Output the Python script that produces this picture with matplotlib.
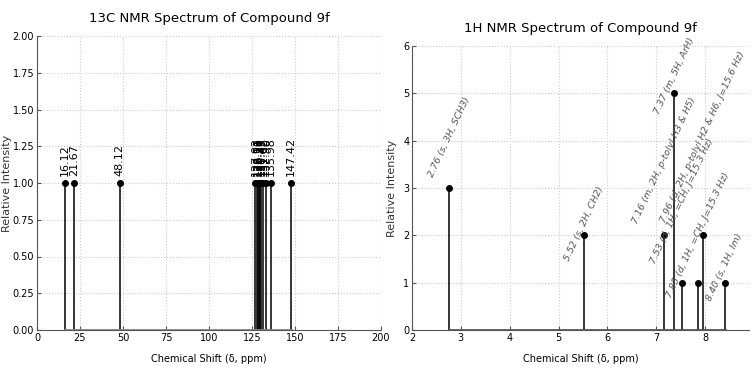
import matplotlib
matplotlib.use("Agg")
import matplotlib.pyplot as plt

plt.rcParams['font.family'] = ['DejaVu Sans']

# 13C peaks (ppm) and intensities
c13_shifts = [16.12, 21.67, 48.12, 127.02, 128.11, 128.56, 129.23, 129.87,
              130.45, 131.62, 132.90, 135.98, 147.42]
c13_intens = [1.0] * len(c13_shifts)

# 1H peaks
h1_shifts = [2.76, 5.52, 7.16, 7.37, 7.53, 7.86, 7.96, 8.40]
h1_intens = [3, 2, 2, 5, 1, 1, 2, 1]
h1_labels = [
    "2.76 (s, 3H, SCH3)",
    "5.52 (s, 2H, CH2)",
    "7.16 (m, 2H, p-tolyl H3 & H5)",
    "7.37 (m, 5H, ArH)",
    "7.53 (d, 1H, =CH, J=15.3 Hz)",
    "7.85 (d, 1H, =CH, J=15.3 Hz)",
    "7.96 (d, 2H, p-tolyl H2 & H6, J=15.6 Hz)",
    "8.40 (s, 1H, Im)",
]
# where each label's centre sits above its peak
h1_label_lift = [1.08, 0.24, 1.58, 0.38, 1.73, 1.0, 2.08, 0.32]

fig = plt.figure(figsize=(7.53, 3.70), dpi=100)
ax1 = fig.add_axes([37/753, 40/370, 344/753, 294/370])
ax2 = fig.add_axes([412/753, 40/370, 337/753, 284/370])


def style(ax, ylab_x):
    ax.grid(True, linestyle=':', color='#cccccc', linewidth=0.8)
    ax.set_axisbelow(True)
    for s in ('top', 'right'):
        ax.spines[s].set_visible(False)
    for s in ('left', 'bottom'):
        ax.spines[s].set_color('#555555')
        ax.spines[s].set_linewidth(0.8)
    ax.tick_params(direction='in', length=3, labelsize=7, pad=2,
                   color='#555555')
    ax.set_xlabel("Chemical Shift (δ, ppm)", fontsize=7, labelpad=8)
    ax.set_ylabel("Relative Intensity", fontsize=8, color='#333333')
    ax.yaxis.set_label_coords(ylab_x, 0.5)


# --- 13C
m, s, b = ax1.stem(c13_shifts, c13_intens)
plt.setp(s, color='black', linewidth=1.1)
plt.setp(m, color='black', markersize=4)
plt.setp(b, color='#888888', linewidth=2)
for x, y in zip(c13_shifts, c13_intens):
    ax1.text(x, y + 0.05, f"{x:.2f}", rotation=90, ha='center', va='bottom',
             fontsize=8)
ax1.set_xlim(0, 200)
ax1.set_ylim(0, 2.0)
ax1.set_xticks(range(0, 201, 25))
ax1.set_yticks([i * 0.25 for i in range(9)])
ax1.yaxis.set_major_formatter(matplotlib.ticker.FormatStrFormatter('%.2f'))
ax1.set_title("13C NMR Spectrum of Compound 9f", fontsize=9.5, pad=10)
style(ax1, -0.072)

# --- 1H
m, s, b = ax2.stem(h1_shifts, h1_intens)
plt.setp(s, color='black', linewidth=1.1)
plt.setp(m, color='black', markersize=4)
plt.setp(b, color='#555555', linewidth=2)
for x, y, lab, lift in zip(h1_shifts, h1_intens, h1_labels, h1_label_lift):
    ax2.text(x, y + lift, lab, rotation=65, ha='center', va='center',
             fontsize=6.8, color='#555555', style='italic')
ax2.set_xlim(2, 8.9)
ax2.set_ylim(0, 6)
ax2.set_xticks(range(2, 9))
ax2.set_yticks(range(0, 7))
ax2.set_title("1H NMR Spectrum of Compound 9f", fontsize=9.5, pad=10)
style(ax2, -0.045)

fig.savefig("out.png", dpi=100)
